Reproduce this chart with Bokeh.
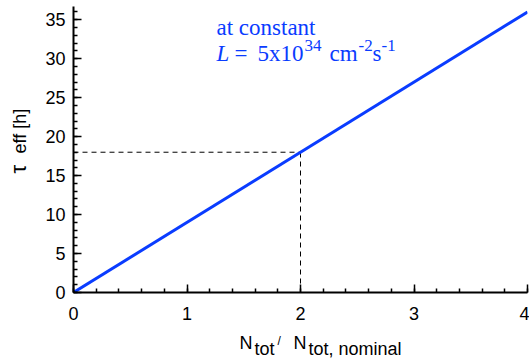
import math
from bokeh.plotting import figure
from bokeh.layouts import row, column
from bokeh.models import Range1d, SingleIntervalTicker, Label
from bokeh.embed import file_html
from bokeh.resources import INLINE

# ---- data ----
ratio = [0, 4]            # N_tot / N_tot,nominal
tau_eff = [0, 36]         # tau_eff [h]
ref_ratio = 2
ref_tau = 18
x_ticks_interval = 1
y_ticks_interval = 5

# ---- layout constants ----
W, H = 529, 363
YLAB_W = 35               # panel holding the y-axis title
XLAB_H = 33               # panel holding the x-axis title
MAIN_W, MAIN_H = W - YLAB_W, H - XLAB_H
LEFT, RIGHT, TOP, BOTTOM = 73 - YLAB_W, 2, 6, MAIN_H - 292
XMAX, YMAX = 4, 36.7
BASE_FIX = 7              # renderer puts the alphabetic baseline ~7px past the anchor

BLUE = "#0a3cff"
SANS = "Liberation Sans"
SERIF = "Liberation Serif"

p = figure(width=MAIN_W, height=MAIN_H, output_backend="svg",
           toolbar_location=None,
           x_range=Range1d(0, XMAX), y_range=Range1d(0, YMAX),
           min_border_left=LEFT, min_border_right=RIGHT,
           min_border_top=TOP, min_border_bottom=BOTTOM)
p.outline_line_color = None
p.xgrid.visible = False
p.ygrid.visible = False

fw = MAIN_W - LEFT - RIGHT
fh = MAIN_H - TOP - BOTTOM
FRAME_X0 = YLAB_W + LEFT
FRAME_X1 = FRAME_X0 + fw


def dx(px):
    return (px - FRAME_X0) / fw * XMAX


def dy(py):
    return (MAIN_H - BOTTOM - py) / fh * YMAX


for ax in (p.xaxis[0], p.yaxis[0]):
    ax.axis_line_width = 2
    ax.axis_line_color = "black"
    ax.major_tick_in = 8
    ax.major_tick_out = 0
    ax.minor_tick_in = 4
    ax.minor_tick_out = 0
    ax.major_tick_line_width = 1.5
    ax.minor_tick_line_width = 1.5
    ax.major_label_text_font = SANS
    ax.major_label_text_font_size = "18px"
    ax.major_label_text_color = "black"

p.xaxis[0].ticker = SingleIntervalTicker(interval=x_ticks_interval, num_minor_ticks=5)
p.yaxis[0].ticker = SingleIntervalTicker(interval=y_ticks_interval, num_minor_ticks=5)
p.xaxis[0].major_label_standoff = 14
p.yaxis[0].major_label_standoff = 8

# reference dashed lines
p.line(x=[0, ref_ratio], y=[ref_tau, ref_tau], line_color="black",
       line_width=1, line_dash="5 4")
p.line(x=[ref_ratio, ref_ratio], y=[0, ref_tau], line_color="black",
       line_width=1, line_dash="5 4")
# main line
p.line(x=ratio, y=tau_eff, line_color=BLUE, line_width=3)


def lab(fig, conv_x, conv_y, text, px, py, size, font=SANS, color="black",
        style="normal", rotated=False):
    if rotated:
        px, angle = px - BASE_FIX, math.pi / 2
    else:
        py, angle = py - BASE_FIX, 0.0
    fig.add_layout(Label(x=conv_x(px), y=conv_y(py), text=text, text_font=font,
                         text_font_size=f"{size}px", text_color=color,
                         text_font_style=style, text_align="left",
                         text_baseline="alphabetic", angle=angle))


# annotation inside the plot (page pixel positions of baselines)
lab(p, dx, dy, "at constant", 216, 34, 23, SERIF, BLUE)
lab(p, dx, dy, "L", 216, 60, 23, SERIF, BLUE, "italic")
lab(p, dx, dy, "=", 234, 60, 23, SERIF, BLUE)
lab(p, dx, dy, "5x10", 257, 60, 23, SERIF, BLUE)
lab(p, dx, dy, "34", 304, 52, 17, SERIF, BLUE)
lab(p, dx, dy, "cm", 329, 60, 23, SERIF, BLUE)
lab(p, dx, dy, "-2", 358, 52, 17, SERIF, BLUE)
lab(p, dx, dy, "s", 372, 60, 23, SERIF, BLUE)
lab(p, dx, dy, "-1", 381, 52, 17, SERIF, BLUE)


def text_panel(w, h, x_range, y_range, left=0, right=0):
    f = figure(width=w, height=h, output_backend="svg", toolbar_location=None,
               x_range=x_range, y_range=y_range,
               x_axis_type=None, y_axis_type=None,
               min_border=0, min_border_left=left, min_border_right=right,
               min_border_top=0, min_border_bottom=0)
    f.outline_line_color = None
    return f


# y-axis title panel (ranges in page pixels)
ypan = text_panel(YLAB_W, H, Range1d(0, YLAB_W), Range1d(H, 0))
ident = lambda v: v
lab(ypan, ident, ident, "\u03c4", 25, 173, 22, rotated=True)
lab(ypan, ident, ident, "eff [h]", 26, 153, 18, rotated=True)

# x-axis title panel; its frame lines up with the main frame
xpan = text_panel(MAIN_W, XLAB_H, Range1d(FRAME_X0, FRAME_X1),
                  Range1d(H, MAIN_H), left=LEFT, right=RIGHT)
lab(xpan, ident, ident, "N", 239, 349, 18)
lab(xpan, ident, ident, "tot", 254, 355, 18)
lab(xpan, ident, ident, "/", 277, 347, 12)
lab(xpan, ident, ident, "N", 293, 349, 18)
lab(xpan, ident, ident, "tot, nominal", 308, 355, 18)

layout = row(ypan, column(p, xpan, spacing=0), spacing=0)

open("out.html", "w").write(file_html(layout, INLINE))
